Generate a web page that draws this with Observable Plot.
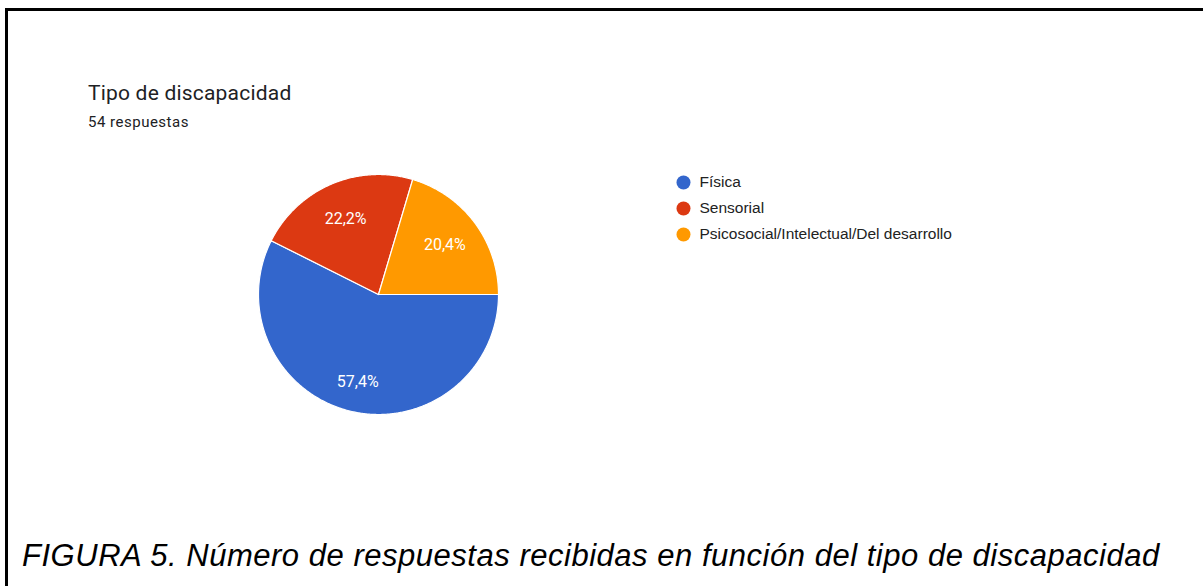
<!DOCTYPE html>
<html>
<head>
<meta charset="utf-8">
<script src="https://cdn.jsdelivr.net/npm/d3@7"></script>
<script src="https://cdn.jsdelivr.net/npm/@observablehq/plot@0.6"></script>
<style>
  html, body { margin: 0; padding: 0; background: #fff; overflow: hidden; }
  body { width: 1204px; height: 586px; position: relative; }
  #frame { position: absolute; left: 5px; top: 8px; width: 1198px; height: 578px;
           border-top: 3px solid #000; border-left: 3px solid #000; box-sizing: border-box; }
  #title { position: absolute; left: 88px; top: 81px; font: 21px Roboto, sans-serif; letter-spacing: 0.2px; color: #202124; white-space: nowrap; }
  #subtitle { position: absolute; left: 88px; top: 113px; font: 15px Roboto, sans-serif; letter-spacing: 0.5px; color: #202124; white-space: nowrap; }
  #pie { position: absolute; left: 258px; top: 174px; }
  #legend { position: absolute; left: 676px; top: 169px; }
  #caption { position: absolute; left: 22px; top: 538px; font: italic 31px "Liberation Sans", Arial, sans-serif; letter-spacing: 0.52px; color: #000; white-space: nowrap; }
</style>
</head>
<body>
<div id="frame"></div>
<div id="title">Tipo de discapacidad</div>
<div id="subtitle">54 respuestas</div>
<div id="pie"></div>
<div id="legend"></div>
<div id="caption">FIGURA 5. Número de respuestas recibidas en función del tipo de discapacidad</div>
<script>
// Data
const categories = ["Física", "Sensorial", "Psicosocial/Intelectual/Del desarrollo"];
const percents = [57.4, 22.2, 20.4];
const labels = ["57,4%", "22,2%", "20,4%"];
const colors = ["#3366cc", "#dc3912", "#ff9900"];
const startAngleDeg = 90; // first slice starts at 3 o'clock, clockwise

// Build slice outlines from the values (angles clockwise from 12 o'clock)
const total = d3.sum(percents);
const slicePoints = [];
const labelPoints = [];
let acc = 0;
categories.forEach((cat, i) => {
  const a0 = (startAngleDeg + acc / total * 360) * Math.PI / 180;
  acc += percents[i];
  const a1 = (startAngleDeg + acc / total * 360) * Math.PI / 180;
  const n = Math.max(2, Math.ceil((a1 - a0) / (Math.PI / 360)));
  slicePoints.push({cat, x: 0, y: 0});
  for (let k = 0; k <= n; k++) {
    const a = a0 + (a1 - a0) * k / n;
    slicePoints.push({cat, x: Math.sin(a), y: Math.cos(a)});
  }
  slicePoints.push({cat, x: 0, y: 0});
  const am = (a0 + a1) / 2;
  const lr = percents[i] / total > 0.5 ? 0.75 : 0.69;
  labelPoints.push({cat, label: labels[i], x: lr * Math.sin(am), y: lr * Math.cos(am)});
});

const color = {domain: categories, range: colors};

const pie = Plot.plot({
  width: 240, height: 240,
  margin: 0,
  x: {domain: [-1, 1], axis: null},
  y: {domain: [-1, 1], axis: null},
  color,
  style: {background: "transparent", overflow: "visible"},
  marks: [
    Plot.line(slicePoints, {x: "x", y: "y", z: "cat", fill: "cat", stroke: "white", strokeWidth: 1.2, curve: "linear"}),
    Plot.text(labelPoints, {x: "x", y: "y", text: "label", fill: "white", fontSize: 16, fontFamily: "Roboto, Arial, sans-serif"})
  ]
});
document.getElementById("pie").appendChild(pie);

const legendData = categories.map(c => ({cat: c}));
const legend = Plot.plot({
  width: 320, height: 78,
  margin: 0,
  x: {axis: null},
  y: {type: "point", domain: categories, range: [13, 65], padding: 0, axis: null},
  color,
  style: {background: "transparent", overflow: "visible"},
  marks: [
    Plot.dot(legendData, {y: "cat", fill: "cat", r: 7, frameAnchor: "left", dx: 7}),
    Plot.text(legendData, {y: "cat", text: "cat", frameAnchor: "left", dx: 23, textAnchor: "start",
      fill: "#222", fontSize: 15.5, letterSpacing: 0.15, fontFamily: "Arial, 'Liberation Sans', sans-serif"})
  ]
});
document.getElementById("legend").appendChild(legend);
</script>
</body>
</html>
